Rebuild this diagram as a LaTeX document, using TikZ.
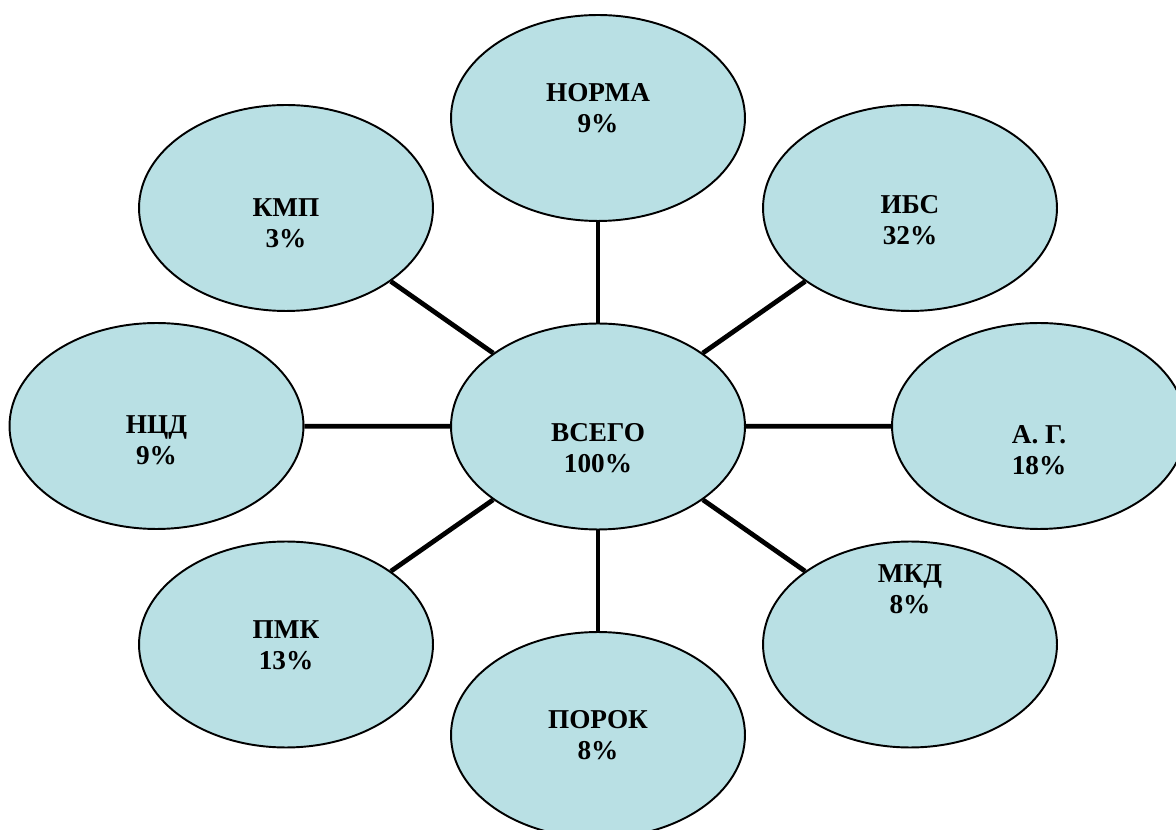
\documentclass[tikz,border=0pt]{standalone}
\usepackage{fontspec}
\setmainfont{Liberation Serif}
\usetikzlibrary{shapes.geometric}

\definecolor{bubblefill}{RGB}{185,224,228}

\tikzset{
	bubble/.style={ellipse, draw=black, line width=1.1pt, fill=bubblefill,
		minimum width=5.88cm, minimum height=4.12cm, inner sep=0pt},
	caption/.style={align=center, inner sep=0pt,
		font=\bfseries\fontsize{15.5}{17.6}\selectfont},
	spoke/.style={line width=0.095cm},
}

\begin{document}
\begin{tikzpicture}[x=0.02cm, y=-0.02cm]
				
				% --- page frame ---
				\useasboundingbox (0,0) rectangle (1176,830);
				\clip (0,0) rectangle (1176,830);
				
				% --- central bubble ---
				\node[bubble] (vsego) at (598,426.5) {};
				\node[caption] (vsego-txt) at (598,448) {ВСЕГО\\100\%};
				
				% --- outer bubbles: name/x/y/text y/text ---
				\foreach \nm/\px/\py/\ty/\txt in {
					norma/598/118/108/{НОРМА\\9\%},
					ibs/910/208/220.5/{ИБС\\32\%},
					ag/1039/426/450/{А. Г.\\18\%},
					mkd/910/644.5/589.5/{МКД\\8\%},
					porok/598/735/735/{ПОРОК\\8\%},
					pmk/286/644.5/645/{ПМК\\13\%},
					ncd/156.5/426/440.5/{НЦД\\9\%},
					kmp/286/208/223.5/{КМП\\3\%}} {
					
					\node[bubble] (\nm) at (\px,\py) {};
					\node[caption] (\nm-txt) at (\px,\ty) {\txt};
				}
				
				% --- spokes ---
				\foreach \nm in {norma,ibs,ag,mkd,porok,pmk,ncd,kmp}
					\draw[spoke] (vsego) -- (\nm);
				
\end{tikzpicture}
\end{document}
